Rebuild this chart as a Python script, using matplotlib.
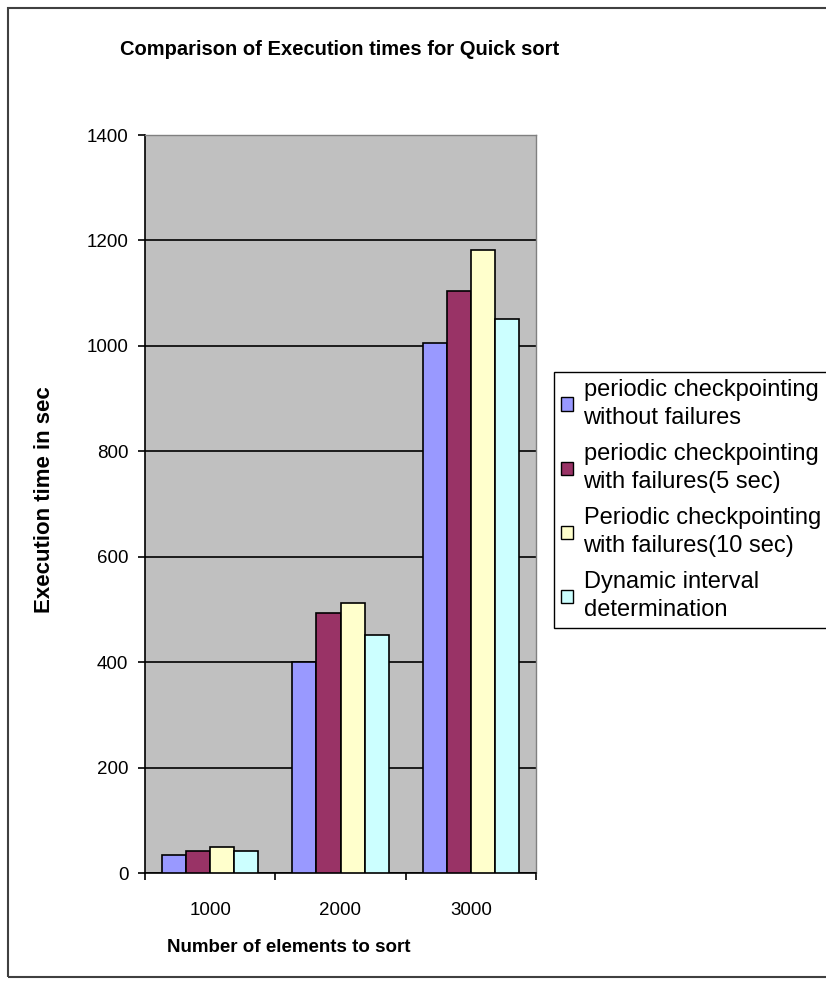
import numpy as np
import matplotlib
matplotlib.use("Agg")
import matplotlib.pyplot as plt
from matplotlib.patches import Rectangle

plt.rcParams['font.family'] = ['Liberation Sans', 'DejaVu Sans']

# Execution times (sec) for each input size
sizes = ["1000", "2000", "3000"]
series_names = [
    "periodic checkpointing\nwithout failures",
    "periodic checkpointing\nwith failures(5 sec)",
    "Periodic checkpointing\nwith failures(10 sec)",
    "Dynamic interval\ndetermination",
]
no_failures = [35, 400, 1005]
failures_5s = [42, 494, 1105]
failures_10s = [49, 513, 1181]
dynamic_interval = [42, 451, 1051]
colors = ["#9999FF", "#993366", "#FFFFCC", "#CCFFFF"]

series = [no_failures, failures_5s, failures_10s, dynamic_interval]

fig = plt.figure(figsize=(8.26, 9.81), dpi=100)
ax = fig.add_axes([145/826, 108/981, 391/826, 738/981])
ax.set_facecolor("#C0C0C0")

x = np.arange(len(sizes))
w = 0.185
for i, (vals, name, c) in enumerate(zip(series, series_names, colors)):
    ax.bar(x + (i - 1.5) * w, vals, w, color=c, edgecolor="black",
           linewidth=1.2, label=name, zorder=3)

ax.set_xlim(-0.5, 2.5)
ax.set_ylim(0, 1400)
ax.set_yticks(np.arange(0, 1401, 200))
ax.yaxis.grid(True, color="black", linewidth=1.2, zorder=1)
ax.set_axisbelow(True)

ax.set_xticks(x)
ax.set_xticklabels(sizes)
ax.tick_params(axis="x", length=0, pad=21, labelsize=13.5)
ax.set_xticks([-0.5, 0.5, 1.5, 2.5], minor=True)
ax.tick_params(axis="x", which="minor", length=5, width=1.2, direction="out")
ax.tick_params(axis="y", length=5, width=1.2, direction="out", pad=7, labelsize=13.5)

for s in ["top", "right"]:
    ax.spines[s].set_color("#808080")
    ax.spines[s].set_linewidth(1)
for s in ["left", "bottom"]:
    ax.spines[s].set_color("black")
    ax.spines[s].set_linewidth(1.2)

fig.text(340/826, 1 - 50/981, "Comparison of Execution times for Quick sort",
         ha="center", va="center", fontsize=14.5, fontweight="bold")
fig.text(289/826, 1 - 948/981, "Number of elements to sort",
         ha="center", va="center", fontsize=13.5, fontweight="bold")
fig.text(45/826, 1 - 500/981, "Execution time in sec", rotation=90,
         ha="center", va="center", fontsize=16, fontweight="bold")

leg = ax.legend(loc="upper left", bbox_to_anchor=(554/826, 1 - 372/981),
                bbox_transform=fig.transFigure, fancybox=False,
                edgecolor="black", framealpha=1, fontsize=17,
                handlelength=0.5, handleheight=0.5, handletextpad=0.45,
                labelspacing=0.6, borderpad=0.3, borderaxespad=0)
leg.get_frame().set_linewidth(1)
for t in leg.get_texts():
    t.set_linespacing(1.35)
for h in leg.legend_handles:
    h.set_linewidth(1)

# outer chart border
fig.patches.append(Rectangle((8/826, 4/981), 1.2, 969/981,
                             transform=fig.transFigure, fill=False,
                             edgecolor="#404040", linewidth=1.5))

fig.savefig("out.png", dpi=100)
